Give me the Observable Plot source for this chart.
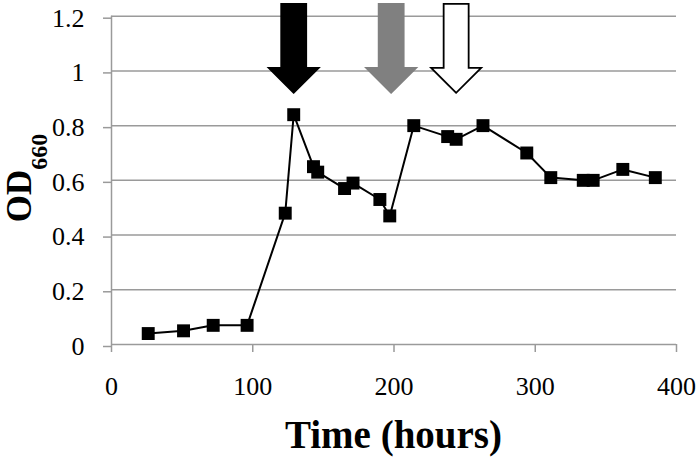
<!DOCTYPE html>
<html>
<head>
<meta charset="utf-8">
<script src="https://cdn.jsdelivr.net/npm/d3@7"></script>
<script src="https://cdn.jsdelivr.net/npm/@observablehq/plot@0.6"></script>
<style>
  html, body { margin: 0; padding: 0; background: white; }
  #chart svg { display: block; }
</style>
</head>
<body>
<div id="chart"></div>
<script>
// Data
const time = [26, 51, 72, 96, 123, 129, 143, 146, 165, 171, 190, 197, 214, 238, 244, 263, 294, 311, 334, 341, 362, 385];
const od   = [0.04, 0.05, 0.07, 0.07, 0.48, 0.84, 0.65, 0.63, 0.57, 0.59, 0.53, 0.47, 0.80, 0.76, 0.75, 0.80, 0.70, 0.61, 0.60, 0.60, 0.64, 0.61];

// Event arrows
const arrowTime = [129, 198, 244];
const arrowTip  = [0.92, 0.92, 0.92];
const arrowFill = ["#000000", "#808080", "#ffffff"];
const arrowStroke = ["#000000", "#808080", "#000000"];

const xTicks = [0, 100, 200, 300, 400];
const yTicks = [0, 0.2, 0.4, 0.6, 0.8, 1, 1.2];

const data = time.map((t, i) => ({t, od: od[i]}));
const arrows = arrowTime.map((t, i) => ({t, y: arrowTip[i], fill: arrowFill[i], stroke: arrowStroke[i]}));

const gray = "#9a9a9a";
const serif = "Liberation Serif";

// Down arrow shape anchored at its tip
const arrowSymbol = {
  draw(ctx) {
    ctx.moveTo(0, 0);
    ctx.lineTo(-25, -25);
    ctx.lineTo(-12.5, -25);
    ctx.lineTo(-12.5, -89);
    ctx.lineTo(12.5, -89);
    ctx.lineTo(12.5, -25);
    ctx.lineTo(25, -25);
    ctx.closePath();
  }
};

const fmt = d => String(+d.toFixed(1));

const svg = Plot.plot({
  width: 700,
  height: 460,
  marginLeft: 111,
  marginRight: 24,
  marginTop: 15.7,
  marginBottom: 116,
  x: {domain: [0, 400]},
  y: {domain: [0, 1.2]},
  color: {type: "identity"},
  style: {fontFamily: serif, fontSize: "26px", color: "black", background: "white", overflow: "visible"},
  marks: [
    Plot.ruleY(yTicks, {x1: 0, x2: 400, stroke: gray, strokeWidth: 1.5}),
    Plot.ruleX([0], {y1: 0, y2: 1.2, stroke: gray, strokeWidth: 1.5}),
    Plot.axisY({ticks: yTicks, tickSize: 8, tickPadding: 19, stroke: gray, strokeWidth: 1.5, fill: "black", tickFormat: fmt, label: null, dy: 2, fontFamily: serif, fontSize: 26}),
    Plot.axisX({ticks: xTicks, tickSize: 8, tickPadding: 24, stroke: gray, strokeWidth: 1.5, fill: "black", label: null, fontFamily: serif, fontSize: 26}),
    Plot.line(data, {x: "t", y: "od", stroke: "black", strokeWidth: 2}),
    Plot.dot(data, {x: "t", y: "od", symbol: "square", r: 7.3, fill: "black", stroke: "none"}),
    Plot.dot(arrows, {x: "t", y: "y", symbol: arrowSymbol, fill: "fill", stroke: "stroke", strokeWidth: 1.8})
  ]
});

const s = d3.select(svg);

// x axis title
s.append("text")
  .attr("x", 393.5).attr("y", 448)
  .attr("text-anchor", "middle")
  .attr("font-family", serif)
  .attr("font-weight", "bold")
  .attr("font-size", 39)
  .attr("fill", "black")
  .text("Time (hours)");
// y axis title with subscript
const yt = s.append("text")
  .attr("transform", "translate(31,178) rotate(-90)")
  .attr("text-anchor", "middle")
  .attr("font-family", serif)
  .attr("font-weight", "bold")
  .attr("font-size", 35)
  .attr("fill", "black");
yt.append("tspan").text("OD");
yt.append("tspan").attr("font-size", 24).attr("dy", 16).text("660");

document.getElementById("chart").appendChild(svg);
</script>
</body>
</html>
